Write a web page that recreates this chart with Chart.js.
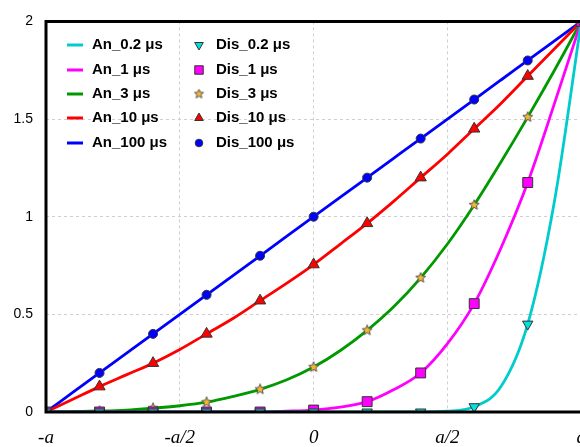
<!DOCTYPE html>
<html>
<head>
<meta charset="utf-8">
<script src="https://cdn.jsdelivr.net/npm/chart.js@4.4.1/dist/chart.umd.min.js"></script>
<style>
  html, body { margin: 0; padding: 0; background: #fff; overflow: hidden; }
</style>
</head>
<body>
<canvas id="profileChart" width="601" height="447"></canvas>
<script>
// positions in units of a
const xLine = [-1, -0.9, -0.8, -0.7, -0.6, -0.5, -0.4, -0.3, -0.2, -0.1, 0,
               0.1, 0.2, 0.3, 0.4, 0.5, 0.6, 0.7, 0.8, 0.9, 1];
const xDis = [-1, -0.8, -0.6, -0.4, -0.2, 0, 0.2, 0.4, 0.6, 0.8, 1];
const xTickLabels = ['-a', '-a/2', '0', 'a/2', 'a'];

// analytical curves
const an02 = [0, 0, 0, 0, 0, 0, 0, 0, 0, 0, 0, 0, 0, 0, 0, 0.004, 0.027, 0.13, 0.45, 1.08, 2];
const an1 = [0, 0, 0, 0, 0, 0, 0, 0, 0, 0.004, 0.01, 0.025, 0.053, 0.115, 0.2, 0.35, 0.555, 0.84, 1.175, 1.58, 2];
const an3 = [0, 0.002, 0.005, 0.01, 0.02, 0.032, 0.05, 0.08, 0.116, 0.165, 0.23, 0.315, 0.418, 0.54, 0.687, 0.86, 1.06, 1.28, 1.51, 1.75, 2];
const an10 = [0, 0.065, 0.13, 0.19, 0.25, 0.32, 0.4, 0.48, 0.57, 0.66, 0.755, 0.86, 0.966, 1.08, 1.2, 1.32, 1.45, 1.58, 1.72, 1.86, 2];
const an100 = [0, 0.1, 0.2, 0.3, 0.4, 0.5, 0.6, 0.7, 0.8, 0.9, 1, 1.1, 1.2, 1.3, 1.4, 1.5, 1.6, 1.7, 1.8, 1.9, 2];

// discrete results
const dis02 = [0, 0, 0, 0, 0, 0, 0, 0, 0.027, 0.45, 2];
const dis1 = [0, 0, 0, 0, 0, 0.01, 0.053, 0.2, 0.555, 1.175, 2];
const dis3 = [0, 0.005, 0.02, 0.05, 0.116, 0.23, 0.418, 0.687, 1.06, 1.51, 2];
const dis10 = [0, 0.13, 0.25, 0.4, 0.57, 0.755, 0.966, 1.2, 1.45, 1.72, 2];
const dis100 = [0, 0.2, 0.4, 0.6, 0.8, 1, 1.2, 1.4, 1.6, 1.8, 2];

const toPoints = (xs, ys) => xs.map((x, i) => ({ x: x, y: ys[i] }));

// filled star marker (chart.js 'star' is outline only)
const makeStar = (size) => {
    const c = document.createElement('canvas');
    c.width = size; c.height = size;
    const g = c.getContext('2d');
    const m = size / 2, R = size / 2 - 0.7;
    g.beginPath();
    for (let i = 0; i < 10; i++) {
        const r = i % 2 == 0 ? R : R * 0.45;
        const ang = -Math.PI / 2 + i * Math.PI / 5;
        const px = m + r * Math.cos(ang), py = m + r * Math.sin(ang);
        if (i == 0) g.moveTo(px, py); else g.lineTo(px, py);
    }
    g.closePath();
    g.fillStyle = '#f2b830';
    g.fill();
    g.strokeStyle = '#555';
    g.lineWidth = 1;
    g.stroke();
    return c;
};
const starImg = makeStar(12);
const starSmall = makeStar(11);

const lineSet = (label, ys, color, order) => ({
    label: label,
    data: toPoints(xLine, ys),
    borderColor: color,
    backgroundColor: color,
    borderWidth: 2.8,
    pointRadius: 0,
    cubicInterpolationMode: 'monotone',
    order: order
});

const markerSet = (label, ys, fill, style, radius, rotation, order) => ({
    label: label,
    data: toPoints(xDis, ys),
    showLine: false,
    pointStyle: style,
    pointRadius: radius,
    pointRotation: rotation,
    pointBackgroundColor: fill,
    pointBorderColor: '#333',
    pointBorderWidth: 1,
    borderColor: fill,
    backgroundColor: fill,
    order: order
});

const datasets = [
    lineSet('An_0.2 μs', an02, '#00cccc', 1),
    lineSet('An_1 μs', an1, '#ff00ff', 2),
    lineSet('An_3 μs', an3, '#009900', 3),
    lineSet('An_10 μs', an10, '#ff0000', 4),
    lineSet('An_100 μs', an100, '#0000ff', 5),
    markerSet('Dis_0.2 μs', dis02, '#00e0e0', 'triangle', 6, 180, 0),
    markerSet('Dis_1 μs', dis1, '#ff00ff', 'rect', 7, 0, 0),
    markerSet('Dis_3 μs', dis3, '#f2b830', starImg, 6, 0, 0),
    markerSet('Dis_10 μs', dis10, '#ff0000', 'triangle', 6.5, 0, 0),
    markerSet('Dis_100 μs', dis100, '#0000ff', 'circle', 4.5, 0, 0)
];

// black frame on left, top and bottom
const framePlugin = {
    id: 'frame',
    afterDatasetsDraw(chart) {
        const { ctx, chartArea: a } = chart;
        ctx.save();
        ctx.strokeStyle = '#000';
        ctx.lineWidth = 3;
        ctx.beginPath();
        ctx.moveTo(a.right + 5, a.top);
        ctx.lineTo(a.left, a.top);
        ctx.lineTo(a.left, a.bottom);
        ctx.lineTo(a.right + 5, a.bottom);
        ctx.stroke();
        ctx.restore();
    }
};

// two column legend inside the plot
const legendPlugin = {
    id: 'insideLegend',
    afterDraw(chart) {
        const ctx = chart.ctx;
        const sets = chart.data.datasets;
        const rowY = [45, 70, 94, 118, 143];
        ctx.save();
        ctx.font = 'bold 15px "Liberation Sans", Arial, sans-serif';
        ctx.textBaseline = 'middle';
        sets.forEach((ds, i) => {
            const y = rowY[i % 5];
            if (i < 5) {
                ctx.strokeStyle = ds.borderColor;
                ctx.lineWidth = 3;
                ctx.beginPath();
                ctx.moveTo(67, y);
                ctx.lineTo(83, y);
                ctx.stroke();
                ctx.fillStyle = '#000';
                ctx.fillText(ds.label, 92, y);
            } else {
                if (typeof ds.pointStyle == 'string') {
                    ctx.fillStyle = ds.pointBackgroundColor;
                    ctx.strokeStyle = '#333';
                    ctx.lineWidth = 1;
                    let r = 5;
                    if (ds.pointStyle == 'rect') r = 6;
                    if (ds.pointStyle == 'circle') r = 3.8;
                    Chart.helpers.drawPoint(ctx, {
                        pointStyle: ds.pointStyle,
                        rotation: ds.pointRotation,
                        radius: r,
                        borderWidth: 1
                    }, 199, y);
                } else {
                    ctx.drawImage(starSmall, 199 - 5.5, y - 5.5);
                }
                ctx.fillStyle = '#000';
                ctx.fillText(ds.label, 216, y);
            }
        });
        ctx.restore();
    }
};

new Chart(document.getElementById('profileChart'), {
    type: 'line',
    data: { datasets: datasets },
    options: {
        responsive: false,
        animation: false,
        layout: { padding: { top: 20, left: 0, right: 0, bottom: 0 } },
        plugins: {
            legend: { display: false },
            tooltip: { enabled: false }
        },
        scales: {
            x: {
                type: 'linear',
                min: -1,
                max: 1,
                afterFit: s => { s.height = 35; },
                ticks: {
                    stepSize: 0.5,
                    padding: 15,
                    color: '#000',
                    maxRotation: 0,
                    font: { family: '"Liberation Serif", "Times New Roman", serif', size: 19, style: 'italic' },
                    callback: (v) => xTickLabels[Math.round((v + 1) * 2)]
                },
                grid: {
                    color: '#cfcfcf',
                    drawTicks: false,
                    lineWidth: 1
                },
                border: { display: false, dash: [3, 3] }
            },
            y: {
                min: 0,
                max: 2,
                afterFit: s => { s.width = 46; },
                ticks: {
                    stepSize: 0.5,
                    padding: 13,
                    color: '#000',
                    font: { family: '"Liberation Sans", Arial, sans-serif', size: 14 },
                    callback: (v) => String(v)
                },
                grid: {
                    color: '#cfcfcf',
                    drawTicks: false,
                    lineWidth: 1
                },
                border: { display: false, dash: [3, 3] }
            }
        }
    },
    plugins: [framePlugin, legendPlugin]
});
</script>
</body>
</html>
